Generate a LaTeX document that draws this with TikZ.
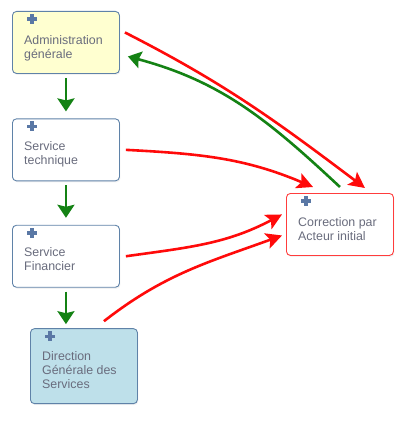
\documentclass[tikz,border=0pt]{standalone}
\usepackage{fontspec}
\setmainfont{Liberation Sans}
\usepackage{tikz}
\usetikzlibrary{arrows.meta, positioning, shadows}
\definecolor{boxline}{RGB}{95,130,168}
\definecolor{adminfill}{RGB}{255,255,208}
\definecolor{dgsfill}{RGB}{190,224,234}
\definecolor{corrline}{RGB}{255,60,60}
\definecolor{plusblue}{RGB}{90,120,165}
\definecolor{txtgray}{RGB}{105,108,125}
\definecolor{flowgreen}{RGB}{20,130,20}
\definecolor{flowred}{RGB}{255,10,10}
\tikzstyle{task} = [rectangle, rounded corners=4pt, minimum width=107pt, minimum height=62pt, draw=boxline, line width=0.9pt, fill=white, drop shadow={shadow xshift=1pt, shadow yshift=-1.5pt, opacity=0.10}]
\tikzstyle{lbl} = [anchor=north west, inner sep=0pt, align=left, text=txtgray, font=\fontsize{12.4}{14}\selectfont]
\tikzstyle{plusicon} = [minimum size=10pt, inner sep=0pt, path picture={
    \fill[plusblue] ([xshift=-1.7pt]path picture bounding box.north) rectangle ([xshift=1.7pt]path picture bounding box.south);
    \fill[plusblue] ([yshift=1.7pt]path picture bounding box.west) rectangle ([yshift=-1.7pt]path picture bounding box.east);}]
\tikzstyle{arrowgreen} = [line width=2.6pt, draw=flowgreen, -{Stealth[length=13pt, width=17pt, inset=2pt]}]
\tikzstyle{arrowred} = [line width=2.6pt, draw=flowred, -{Stealth[length=16pt, width=16pt, inset=3.5pt]}]

\begin{document}
\begin{tikzpicture}[x=1pt, y=1pt]
            \useasboundingbox (0,0) rectangle (410,-444);
            % Nodes
            \node (admin) [task, fill=adminfill, anchor=north west] at (12,-11) {};
            \node (tech) [task, below=44.5pt of admin] {};
            \node (fin) [task, below=43.5pt of tech] {};
            \node (dgs) [task, fill=dgsfill, below=40.5pt of fin, xshift=18pt, minimum height=75pt] {};
            \node (corr) [task, draw=corrline, anchor=north west] at (286,-193) {};

            \node (adminplus) [plusicon] at ([shift={(20pt,-8pt)}]admin.north west) {};
            \node (techplus) [plusicon] at ([shift={(20pt,-8pt)}]tech.north west) {};
            \node (finplus) [plusicon] at ([shift={(20pt,-8pt)}]fin.north west) {};
            \node (dgsplus) [plusicon] at ([shift={(20pt,-8pt)}]dgs.north west) {};
            \node (corrplus) [plusicon] at ([shift={(20pt,-8pt)}]corr.north west) {};

            \node (admintext) [lbl] at ([shift={(12pt,-24pt)}]admin.north west) {Administration\\générale};
            \node (techtext) [lbl] at ([shift={(12pt,-23pt)}]tech.north west) {Service\\technique};
            \node (fintext) [lbl] at ([shift={(12pt,-23pt)}]fin.north west) {Service\\Financier};
            \node (dgstext) [lbl] at ([shift={(12pt,-23pt)}]dgs.north west) {Direction\\Générale des\\Services};
            \node (corrtext) [lbl] at ([shift={(12pt,-24pt)}]corr.north west) {Correction par\\Acteur initial};

            % Edges
            \draw [arrowgreen, shorten <=4pt, shorten >=7pt] (admin) -- (tech);
            \draw [arrowgreen, shorten <=4pt, shorten >=7pt] (tech) -- (fin);
            \draw [arrowgreen, shorten <=4pt, shorten >=4pt] (fin.south) -- (fin.south |- dgs.north);
            \draw [arrowred] ([shift={(5pt,10pt)}]admin.east) to[out=-27, in=143] ([shift={(25pt,5pt)}]corr.north);
            \draw [arrowgreen] ([yshift=6pt]corr.north) to[out=137, in=-15] ([shift={(8pt,-14pt)}]admin.east);
            \draw [arrowred] ([xshift=6pt]tech.east) to[out=-3, in=157] ([shift={(27pt,6pt)}]corr.north west);
            \draw [arrowred] ([xshift=6pt]fin.east) to[out=8, in=-152] ([shift={(-4pt,10pt)}]corr.west);
            \draw [arrowred] ([shift={(20pt,7pt)}]dgs.north) to[out=38, in=-160] ([shift={(-4pt,-11pt)}]corr.west);
        \end{tikzpicture}
\end{document}
